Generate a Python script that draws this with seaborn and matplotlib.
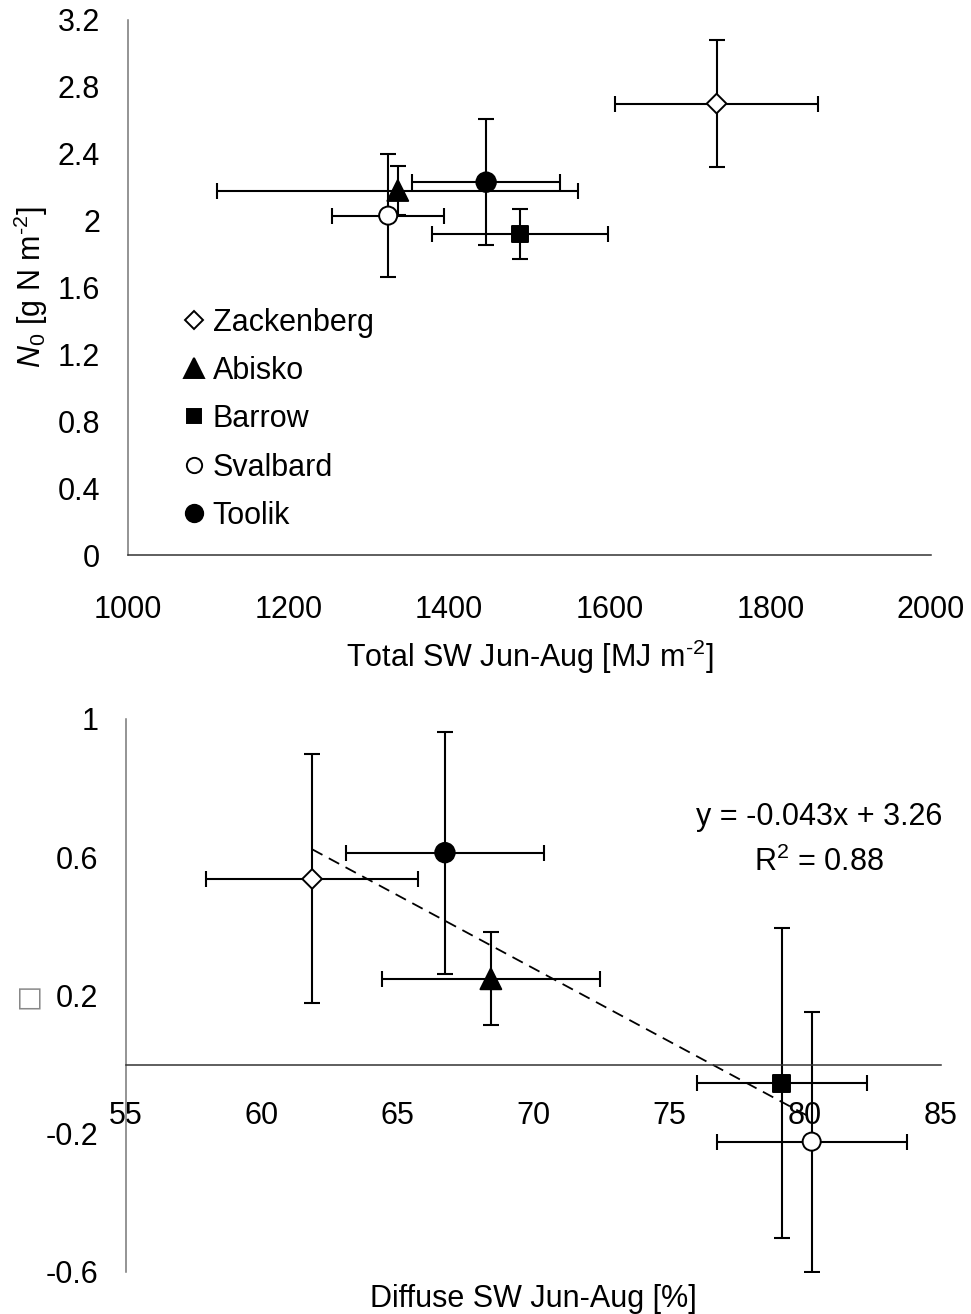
import numpy as np
import pandas as pd
import matplotlib
matplotlib.use("Agg")
import matplotlib.pyplot as plt
from matplotlib.lines import Line2D
import seaborn as sns

# ---------------- data ----------------
sites = ["Zackenberg", "Abisko", "Barrow", "Svalbard", "Toolik"]

# top panel: total SW vs N0
sw_total = [1733, 1336, 1488, 1324, 1446]
sw_total_err = [126, 225, 110, 70, 92]
n0 = [2.70, 2.18, 1.92, 2.03, 2.23]
n0_err = [0.378, 0.144, 0.149, 0.37, 0.375]

# bottom panel: diffuse SW vs (unknown symbol)
sw_diffuse = [61.85, 68.43, 79.13, 80.24, 66.74]
sw_diffuse_err = [3.9, 4.0, 3.13, 3.5, 3.65]
y2 = [0.537, 0.248, -0.054, -0.223, 0.613]
y2_err = [0.36, 0.135, 0.449, 0.376, 0.35]

top_xticks = [1000, 1200, 1400, 1600, 1800, 2000]
top_yticks = [0, 0.4, 0.8, 1.2, 1.6, 2, 2.4, 2.8, 3.2]
top_yticklabels = ["0", "0.4", "0.8", "1.2", "1.6", "2", "2.4", "2.8", "3.2"]
bot_xticks = [55, 60, 65, 70, 75, 80, 85]
bot_yticks = [-0.6, -0.2, 0.2, 0.6, 1.0]
bot_yticklabels = ["-0.6", "-0.2", "0.2", "0.6", "1"]

eq_text = "y = -0.043x + 3.26"
r2_text = "R$^{\\mathregular{2}}$ = 0.88"

# ---------------- style ----------------
markers = {"Zackenberg": "D", "Abisko": "^", "Barrow": "s", "Svalbard": "o", "Toolik": "o"}
faces = {"Zackenberg": "white", "Abisko": "black", "Barrow": "black", "Svalbard": "white", "Toolik": "black"}
msizes = {"Zackenberg": 10, "Abisko": 15, "Barrow": 12, "Svalbard": 13, "Toolik": 14}
leg_sizes = {"Zackenberg": 9.5, "Abisko": 14, "Barrow": 10.5, "Svalbard": 11, "Toolik": 12.5}

sns.set_theme(style="white")
plt.rcParams["font.family"] = ["Liberation Sans", "DejaVu Sans"]
plt.rcParams["mathtext.fontset"] = "custom"
plt.rcParams["mathtext.rm"] = "Liberation Sans"
plt.rcParams["mathtext.it"] = "Liberation Sans:italic"
plt.rcParams["mathtext.bf"] = "Liberation Sans:bold"
plt.rcParams["text.color"] = "black"
plt.rcParams["axes.labelcolor"] = "black"

FS = 22
df1 = pd.DataFrame({"site": sites, "x": sw_total, "xe": sw_total_err, "y": n0, "ye": n0_err})
df2 = pd.DataFrame({"site": sites, "x": sw_diffuse, "xe": sw_diffuse_err, "y": y2, "ye": y2_err})

fig = plt.figure(figsize=(9.71, 13.14), dpi=100)
ax1 = fig.add_axes([0.1318, 0.5776, 0.827, 0.4072])
ax2 = fig.add_axes([0.1298, 0.0320, 0.8393, 0.4209])


def draw_points(ax, df):
    ax.errorbar(df["x"], df["y"], xerr=df["xe"], yerr=df["ye"], fmt="none",
                ecolor="black", elinewidth=1.5, capsize=5.5, capthick=1.5, zorder=2)
    sns.scatterplot(data=df, x="x", y="y", hue="site", style="site", size="site",
                    palette=faces, markers=markers,
                    sizes={k: v ** 2 for k, v in msizes.items()},
                    edgecolor="black", linewidth=1.4, legend=False, zorder=3, ax=ax)


def style_axes(ax, xpad):
    for s in ["top", "right"]:
        ax.spines[s].set_visible(False)
    ax.spines["left"].set_color("#777777")
    ax.spines["bottom"].set_color("#333333")
    for s in ["left", "bottom"]:
        ax.spines[s].set_linewidth(1.1)
    ax.tick_params(axis="both", direction="in", length=7, width=1.0, colors="#555555",
                   labelcolor="black", labelsize=FS)
    ax.tick_params(axis="y", pad=20)
    ax.tick_params(axis="x", pad=xpad)
    ax.grid(False)


# ---------------- top panel ----------------
draw_points(ax1, df1)
style_axes(ax1, 29)
ax1.set_xlim(1000, 2000)
ax1.set_ylim(0, 3.2)
ax1.set_xticks(top_xticks)
ax1.set_xticklabels([str(t) for t in top_xticks])
ax1.set_yticks(top_yticks)
ax1.set_yticklabels(top_yticklabels)
ax1.set_xlabel("Total SW Jun-Aug [MJ m$^{\\text{-2}}$]", fontsize=FS, labelpad=9)
ax1.set_ylabel("$\\mathit{N}_{\\mathregular{0}}$ [g N m$^{\\text{-2}}$]", fontsize=FS)
ax1.yaxis.set_label_coords(-0.097, 0.5)

handles = [Line2D([0], [0], marker=markers[s], color="none", markerfacecolor=faces[s],
                  markeredgecolor="black", markeredgewidth=1.4,
                  markersize=leg_sizes[s], label=s) for s in sites]
ax1.legend(handles=handles, loc="upper left", bbox_to_anchor=(0.06, 0.474), frameon=False,
           fontsize=FS, handlelength=0.8, handletextpad=0.2, labelspacing=0.6,
           borderpad=0.2, borderaxespad=0)

# ---------------- bottom panel ----------------
draw_points(ax2, df2)
sns.regplot(data=df2, x="x", y="y", ci=None, scatter=False, truncate=True, ax=ax2,
            line_kws=dict(color="black", lw=1.3, dashes=(6.5, 4), zorder=2.5))
style_axes(ax2, 26)
ax2.spines["bottom"].set_position(("data", 0))
ax2.set_xlim(55, 85)
ax2.set_ylim(-0.6, 1.0)
ax2.set_xticks(bot_xticks)
ax2.set_xticklabels([str(t) for t in bot_xticks])
ax2.set_yticks(bot_yticks)
ax2.set_yticklabels(bot_yticklabels)
ax2.set_xlabel("Diffuse SW Jun-Aug [%]", fontsize=FS)
ax2.xaxis.set_label_coords(0.5, -0.022)
ax2.set_ylabel("\u25A1", fontsize=FS - 2, color="#888888", family=["DejaVu Sans"])
ax2.yaxis.set_label_coords(-0.105, 0.5)

ax2.text(0.85, 0.823, eq_text, transform=ax2.transAxes, ha="center", va="center", fontsize=FS)
ax2.text(0.85, 0.741, r2_text, transform=ax2.transAxes, ha="center", va="center", fontsize=FS)

fig.savefig("out.png", dpi=100)
